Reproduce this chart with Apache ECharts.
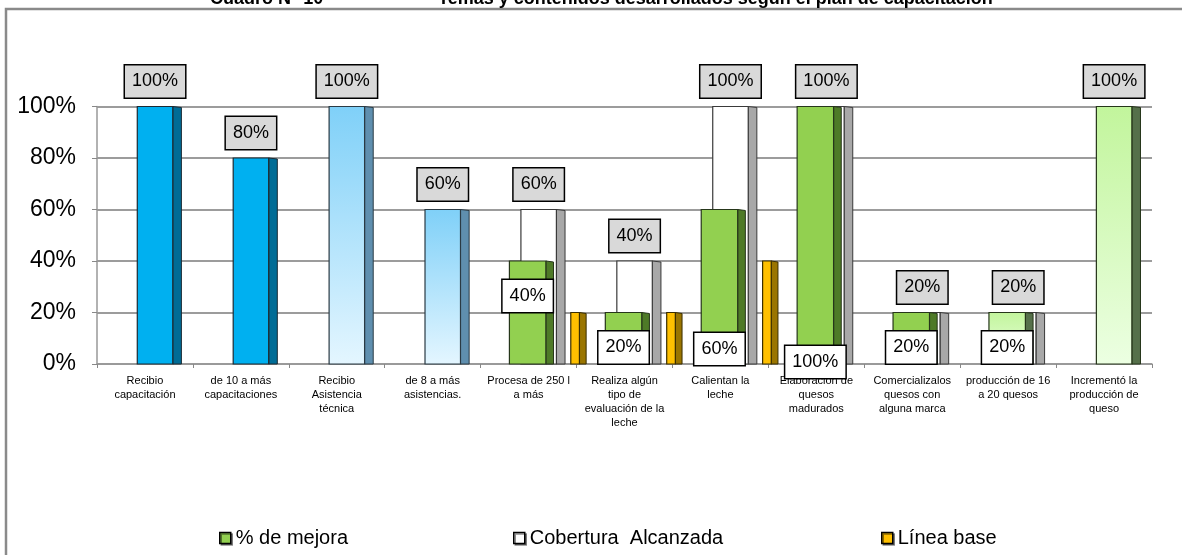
<!DOCTYPE html>
<html>
<head>
<meta charset="utf-8">
<script src="https://cdn.jsdelivr.net/npm/echarts/dist/echarts.min.js"></script>
<style>
html,body{margin:0;padding:0;background:#fff;}
#c{width:1182px;height:555px;}
</style>
</head>
<body>
<div id="c"></div>
<script>
// ---------- data ----------
const categories = [
  'Recibio\ncapacitación',
  'de 10 a más\ncapacitaciones',
  'Recibio\nAsistencia\ntécnica',
  'de 8 a más\nasistencias.',
  'Procesa de 250 l\na más',
  'Realiza algún\ntipo de\nevaluación de la\nleche',
  'Calientan la\nleche',
  'Elaboración de\nquesos\nmadurados',
  'Comercializalos\nquesos con\nalguna marca',
  'producción de 16\na 20 quesos',
  'Incrementó la\nproducción de\nqueso'
];
const seriesNames = ['% de mejora', 'Cobertura  Alcanzada', 'Línea base'];
const mejora    = [null, null, null, null, 40, 20, 60, 100, 20, 20, null];
const cobertura = [100, 80, 100, 60, 60, 40, 100, 100, 20, 20, 100];
const lineaBase = [null, null, null, null, 20, 20, 40, null, null, null, null];
const yTickValues = [0, 20, 40, 60, 80, 100];
const titleLeft = 'Cuadro N° 10';
const titleRight = 'Temas y contenidos desarrollados según el plan de capacitación';

// ---------- styles ----------
const NARROW = "'Liberation Sans Narrow','Arial Narrow','Liberation Sans',Arial,sans-serif";
const grad = (a, b) => new echarts.graphic.LinearGradient(0, 0, 0, 1, [{offset: 0, color: a}, {offset: 1, color: b}]);
const LOOKS = {
  blue:       {front: () => '#00B0F0', side: '#006C96', edge: '#1b2a33'},
  lightBlue:  {front: () => grad('#7FD0F8', '#E4F6FF'), side: '#5F8FAF', edge: '#2a3a44'},
  white:      {front: () => '#FFFFFF', side: '#A8A8A8', edge: '#3a3a3a'},
  green:      {front: () => '#92D050', side: '#4E7A27', edge: '#26361a'},
  lightGreen: {front: () => grad('#C2F59C', '#ECFFE2'), side: '#55704a', edge: '#26361a'},
  orange:     {front: () => '#FFC000', side: '#9A7500', edge: '#3a2e00'}
};
const coberturaLook = ['blue','blue','lightBlue','lightBlue','white','white','white','white','white','white','lightGreen'];
const mejoraLook    = ['green','green','green','green','green','green','green','green','green','lightGreen','green'];
const lineaLook     = new Array(11).fill('orange');

function toData(arr) {
  return arr.map((v, i) => v == null ? null : [i, v]).filter(Boolean);
}

function makeRender(geo, looks, labelKind) {
  return function (params, api) {
    const i = api.value(0), v = api.value(1);
    const band = api.size([1, 0])[0];
    const b = api.coord([i, 0]);
    const t = api.coord([i, v]);
    const x0 = b[0] + geo.x0 * band;
    const fw = geo.fw * band, sw = geo.sw * band;
    const y0 = t[1], y1 = b[1];
    const L = LOOKS[looks[i]];
    const children = [
      {type: 'polygon', shape: {points: [[x0 + fw, y0], [x0 + fw + sw, y0 + 1], [x0 + fw + sw, y1], [x0 + fw, y1]]},
       style: {fill: L.side, stroke: L.edge, lineWidth: 1}},
      {type: 'rect', shape: {x: x0, y: y0, width: fw, height: y1 - y0},
       style: {fill: L.front(), stroke: L.edge, lineWidth: 1.2}}
    ];
    if (labelKind) {
      const cx = x0 + fw / 2;
      let cy, bg;
      if (labelKind === 'gray') {
        cy = y0 - 25; bg = '#D9D9D9';
      } else {
        bg = '#FFFFFF';
        if (v <= 40) cy = y0 + 35;
        else if (v < 100) cy = y1 - 15;
        else cy = y1 - 2;
      }
      children.push({
        type: 'text', z2: 50,
        style: {
          text: v + '%', x: cx, y: cy, align: 'center', verticalAlign: 'middle',
          fontSize: 18, fontFamily: NARROW, fill: '#000', lineHeight: 21,
          backgroundColor: bg, borderColor: '#000', borderWidth: 1.5, padding: [6, 7, 5, 7]
        }
      });
    }
    return {type: 'group', children};
  };
}

const chart = echarts.init(document.getElementById('c'), null, {renderer: 'canvas'});
const legendBase = {
  orient: 'horizontal', icon: 'rect', itemWidth: 11, itemHeight: 11, top: 523,
  textStyle: {fontSize: 20, fontFamily: NARROW, color: '#000'},
  itemStyle: {borderColor: '#000', borderWidth: 1.5, shadowColor: 'rgba(0,0,0,0.45)', shadowOffsetX: 1.5, shadowOffsetY: 1.5, shadowBlur: 0},
  selectedMode: false
};

chart.setOption({
  animation: false,
  backgroundColor: '#fff',
  graphic: [
    {type: 'rect', shape: {x: 6, y: 9, width: 1220, height: 600}, style: {fill: 'none', stroke: '#8a8a8a', lineWidth: 2.5}, z: -1, silent: true},
    {type: 'text', style: {text: titleLeft, x: 210, y: 8, verticalAlign: 'bottom', font: 'bold 18px "Liberation Sans", Arial, sans-serif', fill: '#000'}},
    {type: 'text', style: {text: titleRight, x: 438, y: 8, verticalAlign: 'bottom', font: 'bold 18px "Liberation Sans", Arial, sans-serif', fill: '#000'}}
  ],
  legend: [
    Object.assign({}, legendBase, {data: [seriesNames[0]], left: 214}),
    Object.assign({}, legendBase, {data: [seriesNames[1]], left: 508}),
    Object.assign({}, legendBase, {data: [seriesNames[2]], left: 876})
  ],
  grid: {left: 97, top: 106.5, width: 1055, height: 257.5, containLabel: false},
  xAxis: {
    type: 'category', data: categories, boundaryGap: true,
    axisLine: {show: true, lineStyle: {color: '#999', width: 1.5}},
    axisTick: {show: true, length: 4, lineStyle: {color: '#888'}},
    axisLabel: {interval: 0, fontSize: 11, lineHeight: 14, fontFamily: NARROW, color: '#000', margin: 10}
  },
  yAxis: {
    type: 'value', min: 0, max: 100, interval: 20,
    axisLine: {show: true, lineStyle: {color: '#999', width: 1.5}},
    axisTick: {show: true, length: 5, lineStyle: {color: '#888'}},
    axisLabel: {fontSize: 23, fontFamily: NARROW, color: '#000', margin: 21,
      formatter: v => (yTickValues.indexOf(v) >= 0 ? v + '%' : '')},
    splitLine: {show: true, lineStyle: {color: '#9c9c9c', width: 2}}
  },
  series: [
    {name: seriesNames[2], type: 'custom', itemStyle: {color: '#FFC000'},
     renderItem: makeRender({x0: 0.44, fw: 0.09, sw: 0.07}, lineaLook, null),
     encode: {x: 0, y: 1}, data: toData(lineaBase), z: 2},
    {name: seriesNames[1], type: 'custom', itemStyle: {color: '#FFFFFF'},
     renderItem: makeRender({x0: -0.08, fw: 0.37, sw: 0.09}, coberturaLook, 'gray'),
     encode: {x: 0, y: 1}, data: toData(cobertura), z: 3},
    {name: seriesNames[0], type: 'custom', itemStyle: {color: '#92D050'},
     renderItem: makeRender({x0: -0.2, fw: 0.38, sw: 0.08}, mejoraLook, 'white'),
     encode: {x: 0, y: 1}, data: toData(mejora), z: 4}
  ]
});
</script>
</body>
</html>
